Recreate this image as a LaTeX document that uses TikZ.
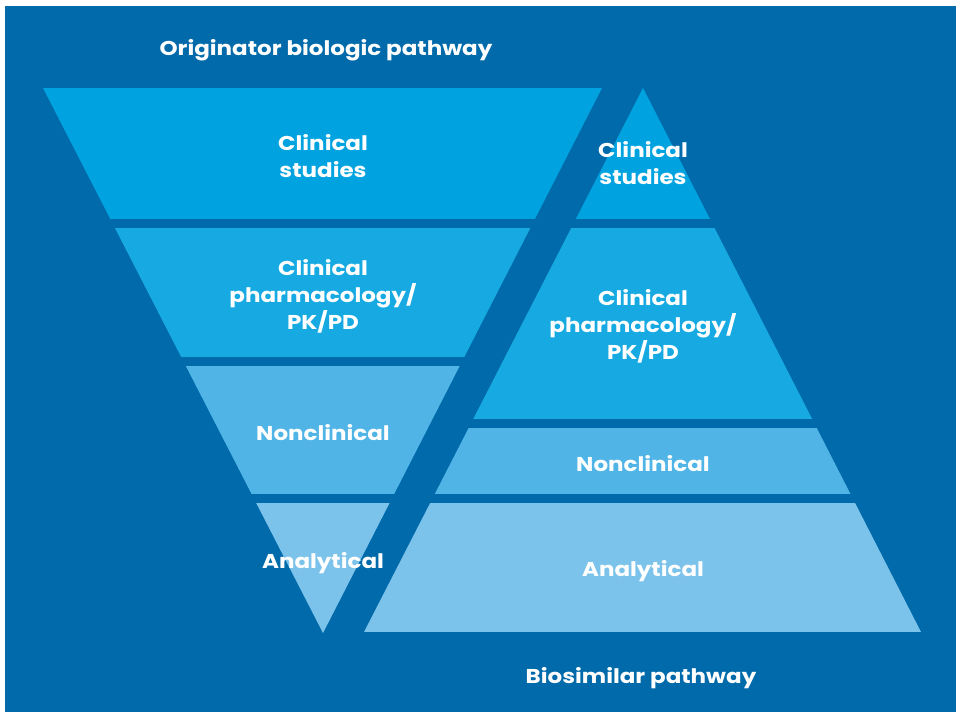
\documentclass[tikz,border=0pt]{standalone}
\usepackage{fontspec}
\setmainfont{Poppins}[BoldFont={Poppins Bold}, BoldFeatures={FakeStretch=1.15}]
\definecolor{bgblue}{HTML}{006AAA}
\definecolor{bandA}{HTML}{00A3E0}
\definecolor{bandB}{HTML}{17AAE2}
\definecolor{bandC}{HTML}{50B5E6}
\definecolor{bandD}{HTML}{7CC3EB}
\tikzset{
  lbl/.style={text=white, font=\bfseries\fontsize{20}{27}\selectfont, align=center, inner sep=0pt},
  title/.style={text=white, font=\bfseries\fontsize{20}{27}\selectfont, inner sep=0pt}
}
\begin{document}
\begin{tikzpicture}[x=1pt,y=-1pt]
\useasboundingbox (0,0) rectangle (956,712);
\fill[white] (0,0) rectangle (956,712);
\fill[bgblue] (5,6) rectangle (956,712);
% left inverted triangle
\begin{scope}
\clip (43,88) -- (602,88) -- (323,633) -- cycle;
\fill[bandA] (0,88) rectangle (956,219);
\fill[bandB] (0,228) rectangle (956,357);
\fill[bandC] (0,366) rectangle (956,494);
\fill[bandD] (0,503) rectangle (956,640);
\end{scope}
% right pyramid
\begin{scope}
\clip (643,88) -- (921,632) -- (364,632) -- cycle;
\fill[bandA] (0,80) rectangle (956,219);
\fill[bandB] (0,228) rectangle (956,419);
\fill[bandC] (0,428) rectangle (956,494);
\fill[bandD] (0,503) rectangle (956,632);
\end{scope}
\node[title] (t1) at (326,50) {Originator biologic pathway};
\node[title] (t2) at (641,678) {Biosimilar pathway};
\node[lbl] (l1) at (323,156) {Clinical\\studies};
\node[lbl] (l2) at (323,296) {Clinical\\pharmacology/\\PK/PD};
\node[lbl] (l3) at (323,433) {Nonclinical};
\node[lbl] (l4) at (323,563) {Analytical};
\node[lbl] (r1) at (643,163) {Clinical\\studies};
\node[lbl] (r2) at (643,326) {Clinical\\pharmacology/\\PK/PD};
\node[lbl] (r3) at (643,464) {Nonclinical};
\node[lbl] (r4) at (643,571) {Analytical};
\end{tikzpicture}
\end{document}
